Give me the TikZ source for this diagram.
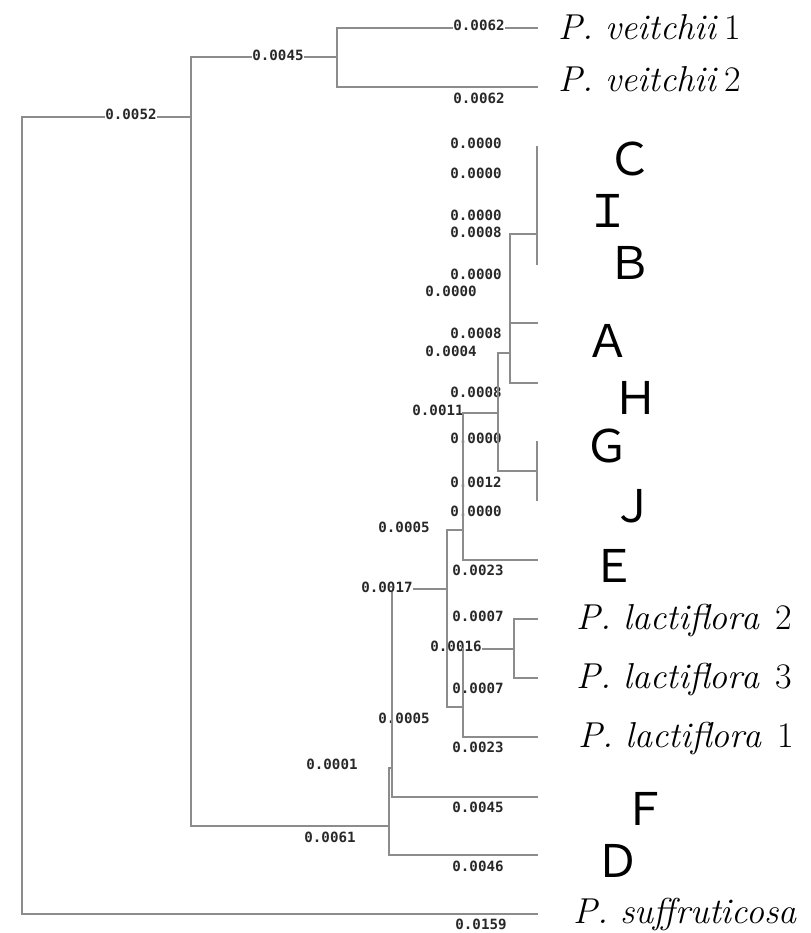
\documentclass[tikz,border=0pt]{standalone}
\usepackage{fontspec}
\newfontfamily\numfont{DejaVu Sans Mono}
\newfontfamily\cjkfont{Noto Sans CJK JP}
\definecolor{limbgray}{RGB}{140,140,140}
\definecolor{numtext}{RGB}{40,40,40}

\begin{document}
\begin{tikzpicture}[x=0.75pt,y=-0.75pt,
  limb/.style={draw=limbgray,line width=1pt,line cap=rect},
  brlen/.style={font=\numfont\bfseries\fontsize{10.6}{11}\selectfont,text=numtext,
    fill=white,inner sep=0.6pt,text height=7.7pt,text depth=0pt,anchor=center},
  taxon/.style={font=\fontsize{27}{30}\selectfont,anchor=base west,inner sep=0pt},
  cultivar/.style={font=\cjkfont\fontsize{33.75}{36}\selectfont,anchor=base,inner sep=0pt}]
\fill[white] (0,0) rectangle (811,933);
\useasboundingbox (0,0) rectangle (811,933);

% tree nodes (x = depth, y = attachment height)
\coordinate (root) at (22,515);
\coordinate (nX)   at (191,117);
\coordinate (tSuf) at (537,914);
\coordinate (nVe)  at (337,57);
\coordinate (tV1)  at (537,28);
\coordinate (tV2)  at (537,87);
\coordinate (nY)   at (389,826);
\coordinate (nW)   at (392,768);
\coordinate (wTop) at (392,593);
\coordinate (tD)   at (537,855);
\coordinate (tF)   at (537,797);
\coordinate (nP)   at (447,589);
\coordinate (nQ)   at (463,530);
\coordinate (nS)   at (463,707);
\coordinate (nT)   at (498,413);
\coordinate (tE)   at (537,560);
\coordinate (nR)   at (514,649);
\coordinate (tL1)  at (537,737);
\coordinate (tL2)  at (537,619);
\coordinate (tL3)  at (537,678);
\coordinate (nU)   at (510,353);
\coordinate (nV)   at (537,471);
\coordinate (tG)   at (537,442);
\coordinate (tJ)   at (537,500);
\coordinate (nK)   at (537,234);
\coordinate (tC)   at (537,147);
\coordinate (tB)   at (537,264);
\coordinate (tA)   at (537,323);
\coordinate (tH)   at (537,383);

% horizontal branches
\foreach \p/\c in {root/nX,root/tSuf,nX/nVe,nX/nY,nVe/tV1,nVe/tV2,nY/nW,nY/tD,
                   nW/nP,nW/tF,nP/nQ,nP/nS,nQ/nT,nQ/tE,nS/nR,nS/tL1,nR/tL2,nR/tL3,
                   nT/nU,nT/nV,nU/nK,nU/tA,nU/tH}
  \draw[limb] (\p |- \c) -- (\c);

% branch lengths
\node[brlen] (b0052)  at (131,114) {0.0052};
\node[brlen] (b0045)  at (278,55)  {0.0045};
\node[brlen] (b0062a) at (479,25)  {0.0062};
\node[brlen] (b0062b) at (479,98)  {0.0062};
\node[brlen] (b0000a) at (476,143) {0.0000};
\node[brlen] (b0000b) at (476,173) {0.0000};
\node[brlen] (b0000c) at (476,215) {0.0000};
\node[brlen] (b0008a) at (476,232) {0.0008};
\node[brlen] (b0000d) at (476,274) {0.0000};
\node[brlen] (b0000e) at (451,291) {0.0000};
\node[brlen] (b0008b) at (476,333) {0.0008};
\node[brlen] (b0004)  at (451,351) {0.0004};
\node[brlen] (b0008c) at (476,392) {0.0008};
\node[brlen] (b0011)  at (438,410) {0.0011};
\node[brlen] (b0000f) at (476,438) {0.0000};
\node[brlen] (b0012)  at (476,482) {0.0012};
\node[brlen] (b0000g) at (476,511) {0.0000};
\node[brlen] (b0005a) at (404,527) {0.0005};
\node[brlen] (b0023a) at (478,570) {0.0023};
\node[brlen] (b0017)  at (387,587) {0.0017};
\node[brlen] (b0007a) at (478,616) {0.0007};
\node[brlen] (b0016)  at (456,646) {0.0016};
\node[brlen] (b0007b) at (478,688) {0.0007};
\node[brlen] (b0005b) at (404,718) {0.0005};
\node[brlen] (b0023b) at (478,747) {0.0023};
\node[brlen] (b0001)  at (332,764) {0.0001};
\node[brlen] (b0045b) at (478,807) {0.0045};
\node[brlen] (b0061)  at (330,837) {0.0061};
\node[brlen] (b0046)  at (478,866) {0.0046};
\node[brlen] (b0159)  at (481,924) {0.0159};

% vertical connectors
\foreach \n/\a/\b in {root/nX/tSuf,nX/nVe/nY,nVe/tV1/tV2,nY/nW/tD,nP/nQ/nS,nQ/nT/tE,
                      nS/nR/tL1,nR/tL2/tL3,nT/nU/nV,nU/nK/tH,nV/tG/tJ,nK/tC/tB}
  \draw[limb] (\n |- \a) -- (\n |- \b);
\draw[limb] (wTop) -- (nW |- tF);

% taxon names
\node[taxon] (lV1)  at (558,39)  {\textit{P. veitchii}\,1};
\node[taxon] (lV2)  at (558,91)  {\textit{P. veitchii}\,2};
\node[taxon] (lL2)  at (576,629) {\textit{P. lactiflora}\hspace{0.45em}2};
\node[taxon] (lL3)  at (576,688) {\textit{P. lactiflora}\hspace{0.45em}3};
\node[taxon] (lL1)  at (578,747) {\textit{P. lactiflora}\hspace{0.45em}1};
\node[taxon] (lSuf) at (573,923) {\textit{P. suffruticosa}};

% cultivar letters
\node[cultivar] (cC) at (630,175) {Ｃ};
\node[cultivar] (cI) at (608,227) {Ｉ};
\node[cultivar] (cB) at (630,279) {Ｂ};
\node[cultivar] (cA) at (608,357) {Ａ};
\node[cultivar] (cH) at (636,414) {Ｈ};
\node[cultivar] (cG) at (607,462) {Ｇ};
\node[cultivar] (cJ) at (633,522) {Ｊ};
\node[cultivar] (cE) at (614,582) {Ｅ};
\node[cultivar] (cF) at (645,825) {Ｆ};
\node[cultivar] (cD) at (618,877) {Ｄ};
\end{tikzpicture}
\end{document}
